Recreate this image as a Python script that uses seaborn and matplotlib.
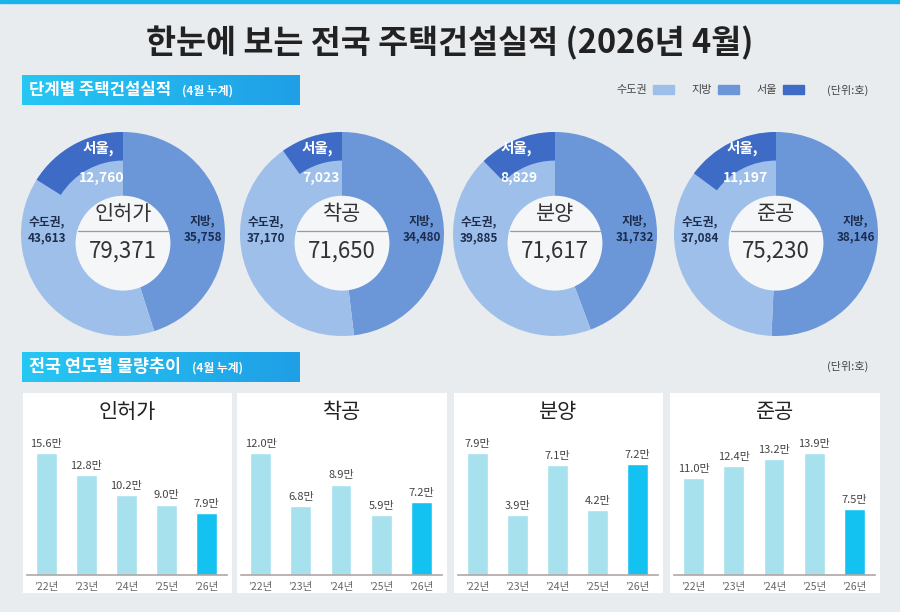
import numpy as np
import pandas as pd
import matplotlib
matplotlib.use('Agg')
import matplotlib.pyplot as plt
import seaborn as sns
from matplotlib.patches import Rectangle, Circle, Patch
from matplotlib.colors import LinearSegmentedColormap

# data
stages = ['인허가', '착공', '분양', '준공']
sudo = [43613, 37170, 39885, 37084]
jibang = [35758, 34480, 31732, 38146]
seoul = [12760, 7023, 8829, 11197]
totals = [79371, 71650, 71617, 75230]

years = ['’22년', '’23년', '’24년', '’25년', '’26년']
permit = [15.6, 12.8, 10.2, 9.0, 7.9]
start = [12.0, 6.8, 8.9, 5.9, 7.2]
sale = [7.9, 3.9, 7.1, 4.2, 7.2]
complete = [11.0, 12.4, 13.2, 13.9, 7.5]

sns.set_theme(style='white')
plt.rcParams['font.family'] = ['Noto Sans CJK KR', 'DejaVu Sans']

W, H = 900, 612
BG = '#e9ecef'
c_sudo, c_jibang, c_seoul = '#9ebfea', '#6b97d9', '#3d6bc6'
c_bar, c_hi = '#a6e1ed', '#14c2f2'


def box(x0, y0, x1, y1):
    return [x0 / W, 1 - y1 / H, (x1 - x0) / W, (y1 - y0) / H]


fig = plt.figure(figsize=(9, 6.12), dpi=100, facecolor=BG)

# top line
fig.patches.append(Rectangle((0, 1 - 3 / H), 1, 3 / H, transform=fig.transFigure,
                             color='#1ab5e8', zorder=5))

fig.text(0.5, 1 - 43 / H, '한눈에 보는 전국 주택건설실적 (2026년 4월)', ha='center', va='center',
         fontsize=23.5, fontweight='bold', color='#222222')

grad = LinearSegmentedColormap.from_list('hdr', ['#27c7f3', '#1f9fe6'])


def header(y0, y1, title, sub, size):
    hx = fig.add_axes(box(22, y0, 300, y1))
    hx.imshow(np.linspace(0, 1, 256)[None, :], cmap=grad, aspect='auto', extent=(0, 1, 0, 1))
    hx.set_axis_off()
    t = hx.text(0.025, 0.5, title, transform=hx.transAxes, ha='left', va='center',
                fontsize=size, fontweight='bold', color='white')
    hx.annotate(sub, xy=(1, 0.45), xycoords=t, xytext=(8, 0), textcoords='offset points',
                ha='left', va='center', fontsize=8.5, fontweight='bold', color='white')


header(75, 105, '단계별 주택건설실적', '(4월 누계)', 12)
header(352, 382, '전국 연도별 물량추이', '(4월 누계)', 12.5)

# legend
handles = [Patch(color=c_sudo), Patch(color=c_jibang), Patch(color=c_seoul)]
fig.legend(handles, ['수도권', '지방', '서울'], ncol=3, markerfirst=False, frameon=False,
           loc='center right', bbox_to_anchor=(814 / W, 1 - 90 / H), fontsize=8,
           handlelength=1.9, handleheight=0.9, columnspacing=1.6, handletextpad=0.5,
           labelcolor='#444444')
fig.text(848 / W, 1 - 90 / H, '(단위:호)', ha='center', va='center', fontsize=8, color='#444444')
fig.text(848 / W, 1 - 366 / H, '(단위:호)', ha='center', va='center', fontsize=8, color='#444444')

# donuts
centers = [123, 342, 555, 776]
seoul_dx = [-0.24, -0.24, -0.38, -0.33]
for i, st in enumerate(stages):
    cx, cy, r = centers[i], 234, 102
    ax = fig.add_axes(box(cx - r, cy - r, cx + r, cy + r))
    ax.pie([jibang[i], sudo[i]], colors=[c_jibang, c_sudo], startangle=90, counterclock=False,
           radius=1, wedgeprops=dict(edgecolor='none'))
    ax.pie([totals[i] - seoul[i], seoul[i]], colors=['none', c_seoul], startangle=90,
           counterclock=False, radius=1, wedgeprops=dict(width=0.28, edgecolor='none'))
    ax.add_patch(Circle((0, -0.09), 0.465, fc='#f5f6f8', ec='none', zorder=3))
    ax.plot([-0.44, 0.44], [0.03, 0.03], color='#9a9a9a', lw=0.9, zorder=4)
    ax.text(0, 0.2, st, ha='center', va='center', fontsize=15, color='#333333', zorder=5)
    ax.text(0, -0.17, f'{totals[i]:,}', ha='center', va='center', fontsize=16,
            fontweight='medium', color='#333333', zorder=5)
    ax.text(0.78, 0.05, f'지방,\n{jibang[i]:,}', ha='center', va='center', fontsize=8.5,
            fontweight='bold', color='#1c2c4c', linespacing=1.35)
    ax.text(-0.75, 0.04, f'수도권,\n{sudo[i]:,}', ha='center', va='center', fontsize=8.5,
            fontweight='bold', color='#1c2c4c', linespacing=1.35)
    ax.text(seoul_dx[i], 0.84, '서울,', ha='center', va='center', fontsize=10.5,
            fontweight='bold', color='white')
    ax.text(seoul_dx[i] + 0.03, 0.55, f'{seoul[i]:,}', ha='center', va='center', fontsize=10,
            fontweight='bold', color='white', zorder=2)
    ax.set_xlim(-1.0, 1.0)
    ax.set_ylim(-1.0, 1.0)
    ax.set_aspect('equal')
    ax.set_axis_off()

# bar panels
panels = [(23, 232), (237, 447), (454, 663), (670, 880)]
series = [permit, start, sale, complete]
for i, st in enumerate(stages):
    x0, x1 = panels[i]
    px = fig.add_axes(box(x0, 393, x1, 593))
    px.set_facecolor('white')
    px.set_xticks([])
    px.set_yticks([])
    for s in px.spines.values():
        s.set_visible(False)
    fig.text((x0 + x1) / 2 / W, 1 - 412 / H, st, ha='center', va='center', fontsize=15,
             color='#222222')

    df = pd.DataFrame({'year': years, 'value': series[i]})
    ax = fig.add_axes(box(x0 + 3.5, 430, x1 - 5.5, 575))
    ax.patch.set_alpha(0)
    pal = [c_bar] * (len(years) - 1) + [c_hi]
    sns.barplot(data=df, x='year', y='value', hue='year', palette=pal, legend=False,
                width=0.52, saturation=1, ax=ax)
    for c in ax.containers:
        ax.bar_label(c, fmt='{:.1f}만', padding=3, fontsize=8, color='#444444')
    ax.set_ylim(0, max(series[i]) * 145 / 122)
    ax.set_xlim(-0.5, len(years) - 0.5)
    ax.set_xlabel('')
    ax.set_ylabel('')
    ax.set_yticks([])
    ax.tick_params(axis='x', length=0, pad=5, labelsize=7.5, labelcolor='#666666')
    for s in ['top', 'left', 'right']:
        ax.spines[s].set_visible(False)
    ax.spines['bottom'].set_color('#b0a6a6')
    ax.spines['bottom'].set_linewidth(1.2)

fig.savefig('out.png', dpi=100, facecolor=BG)
